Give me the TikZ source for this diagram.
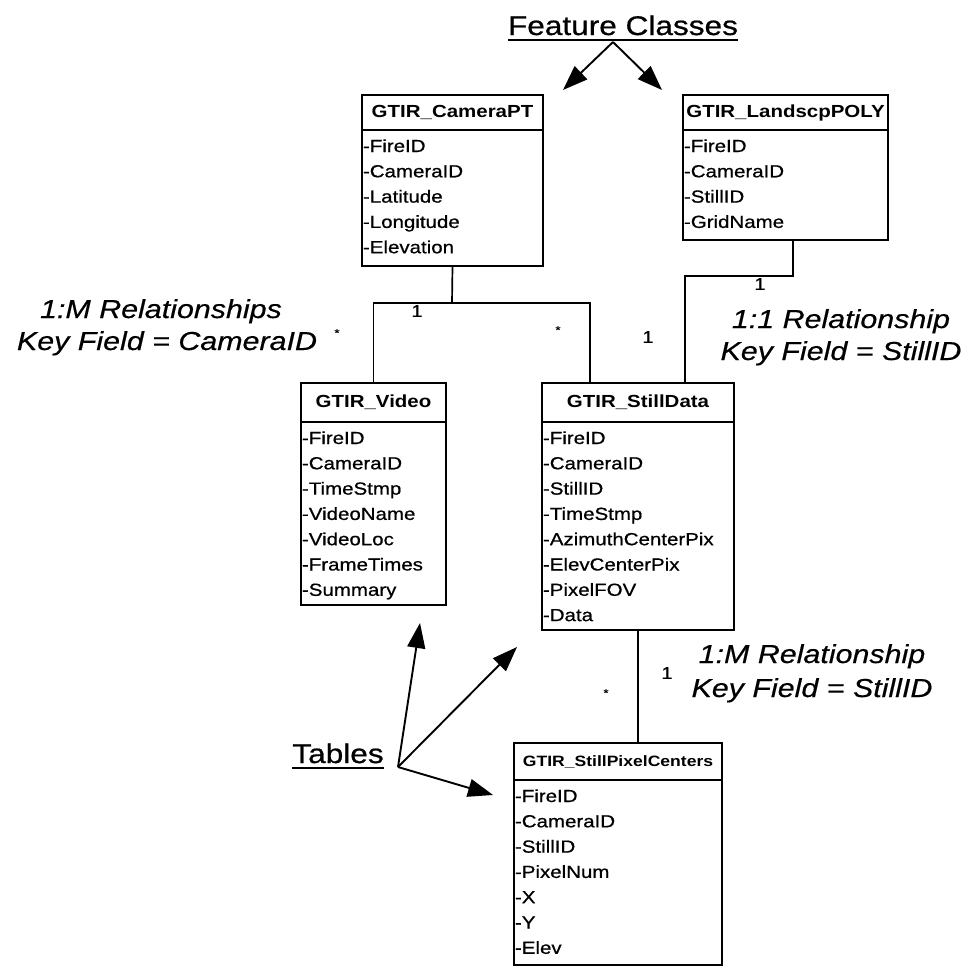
\documentclass[tikz,border=0pt]{standalone}
\usepackage{fontspec}
\setmainfont[FakeStretch=1.17,
  UprightFeatures={FakeBold=0.7},
  ItalicFeatures={FakeBold=0.5}]{Liberation Sans}
\usetikzlibrary{arrows.meta}

% A table box: header with title, body with one "-field" line per entry.
% #1 name, #2 top-left corner, #3 width, #4 header height, #5 body height,
% #6 title, #7 comma separated field list
\newcommand{\dbtable}[7]{%
  \node[hdr, minimum width=#3, minimum height=#4] (#1) at (#2) {#6};
  \node[bodybox, minimum width=#3, minimum height=#5] (#1-body) at (#1.south west) {};
  \foreach \fld [count=\k] in {#7} {
    \node[rowtext] (#1-r\k) at ([xshift=1pt, yshift={-22pt-(\k-1)*25.3pt}]#1-body.north west) {-\fld};
  }
}

\begin{document}
\begin{tikzpicture}[x=1pt, y=-1pt,
  every node/.style={inner sep=0pt, outer sep=0pt},
  hdr/.style={draw, line width=1.9pt, anchor=north west, font=\fontsize{17.5}{20}\selectfont\bfseries},
  bodybox/.style={draw, line width=1.9pt, anchor=north west},
  rowtext/.style={anchor=base west, font=\fontsize{17.5}{20}\selectfont},
  conn/.style={line width=1.7pt},
  arr/.style={line width=1.9pt, -{Triangle[length=25pt,width=18pt]}},
  lbl/.style={anchor=base, font=\fontsize{26}{30}\selectfont\itshape},
  big/.style={anchor=base, font=\fontsize{27}{30}\selectfont},
  mult/.style={font=\fontsize{17}{20}\selectfont},
  star/.style={font=\fontsize{11}{12}\selectfont},
]
\useasboundingbox (0,0) rectangle (969,967);

% feature classes
\dbtable{cam}{362,95}{181pt}{35pt}{136pt}{GTIR\_CameraPT}{FireID,CameraID,Latitude,Longitude,Elevation}
\dbtable{land}{683,95}{205pt}{35pt}{110pt}{GTIR\_LandscpPOLY}{FireID,CameraID,StillID,GridName}

% tables
\dbtable{vid}{301,383}{145pt}{39pt}{183pt}{GTIR\_Video}{FireID,CameraID,TimeStmp,VideoName,VideoLoc,FrameTimes,Summary}
\dbtable{sd}{542,383}{192pt}{39pt}{208pt}{GTIR\_StillData}{FireID,CameraID,StillID,TimeStmp,AzimuthCenterPix,ElevCenterPix,PixelFOV,Data}
\dbtable{spc}{514,743}{208pt}{37pt}{185pt}{{\fontsize{15}{18}\selectfont GTIR\_StillPixelCenters}}{FireID,CameraID,StillID,PixelNum,X,Y,Elev}

% relationship connectors
\coordinate (j1) at (452,303);
\draw[conn] (cam-body.south) -- (j1);
\draw[conn] (vid.north) |- (j1) -| ([xshift=48pt]sd.north west);
\draw[conn] ([xshift=110pt]land-body.south west) -- ++(0,36) -| ([xshift=143pt]sd.north west);
\draw[conn] (sd-body.south) -- (sd-body.south |- spc.north);

% multiplicities
\node[mult] (m1) at (417,311) {1};
\node[star] (m2) at (337,333) {*};
\node[star] (m3) at (558,330) {*};
\node[mult] (m4) at (648,337) {1};
\node[mult] (m5) at (760,284) {1};
\node[mult] (m6) at (667,673) {1};
\node[star] (m7) at (606,693) {*};

% relationship labels
\node[lbl] (relL1) at (161,318) {1:M Relationships};
\node[lbl] (relL2) at (167,350) {Key Field = CameraID};
\node[lbl] (relR1) at (841,328) {1:1 Relationship};
\node[lbl] (relR2) at (841,360) {Key Field = StillID};
\node[lbl] (relB1) at (812,663) {1:M Relationship};
\node[lbl] (relB2) at (812,697) {Key Field = StillID};

% group captions with pointer arrows
\node[big] (fc) at (623,35) {Feature Classes};
\draw[line width=1.9pt] ([yshift=-5pt]fc.base west) -- ([yshift=-5pt]fc.base east);
\coordinate (fcapex) at (613,42);
\coordinate (fctipL) at (563,90);
\coordinate (fctipR) at (662,90);
\draw[arr] (fcapex) -- (fctipL);
\draw[arr] (fcapex) -- (fctipR);

\node[big] (tables) at (338,763) {Tables};
\draw[line width=1.9pt] ([yshift=-5pt]tables.base west) -- ([yshift=-5pt]tables.base east);
\coordinate (tbroot) at (398,767);
\coordinate (tbtip1) at (420,623);
\coordinate (tbtip2) at (517,647);
\coordinate (tbtip3) at (493,795);
\draw[arr] (tbroot) -- (tbtip1);
\draw[arr] (tbroot) -- (tbtip2);
\draw[arr] (tbroot) -- (tbtip3);
\end{tikzpicture}
\end{document}
